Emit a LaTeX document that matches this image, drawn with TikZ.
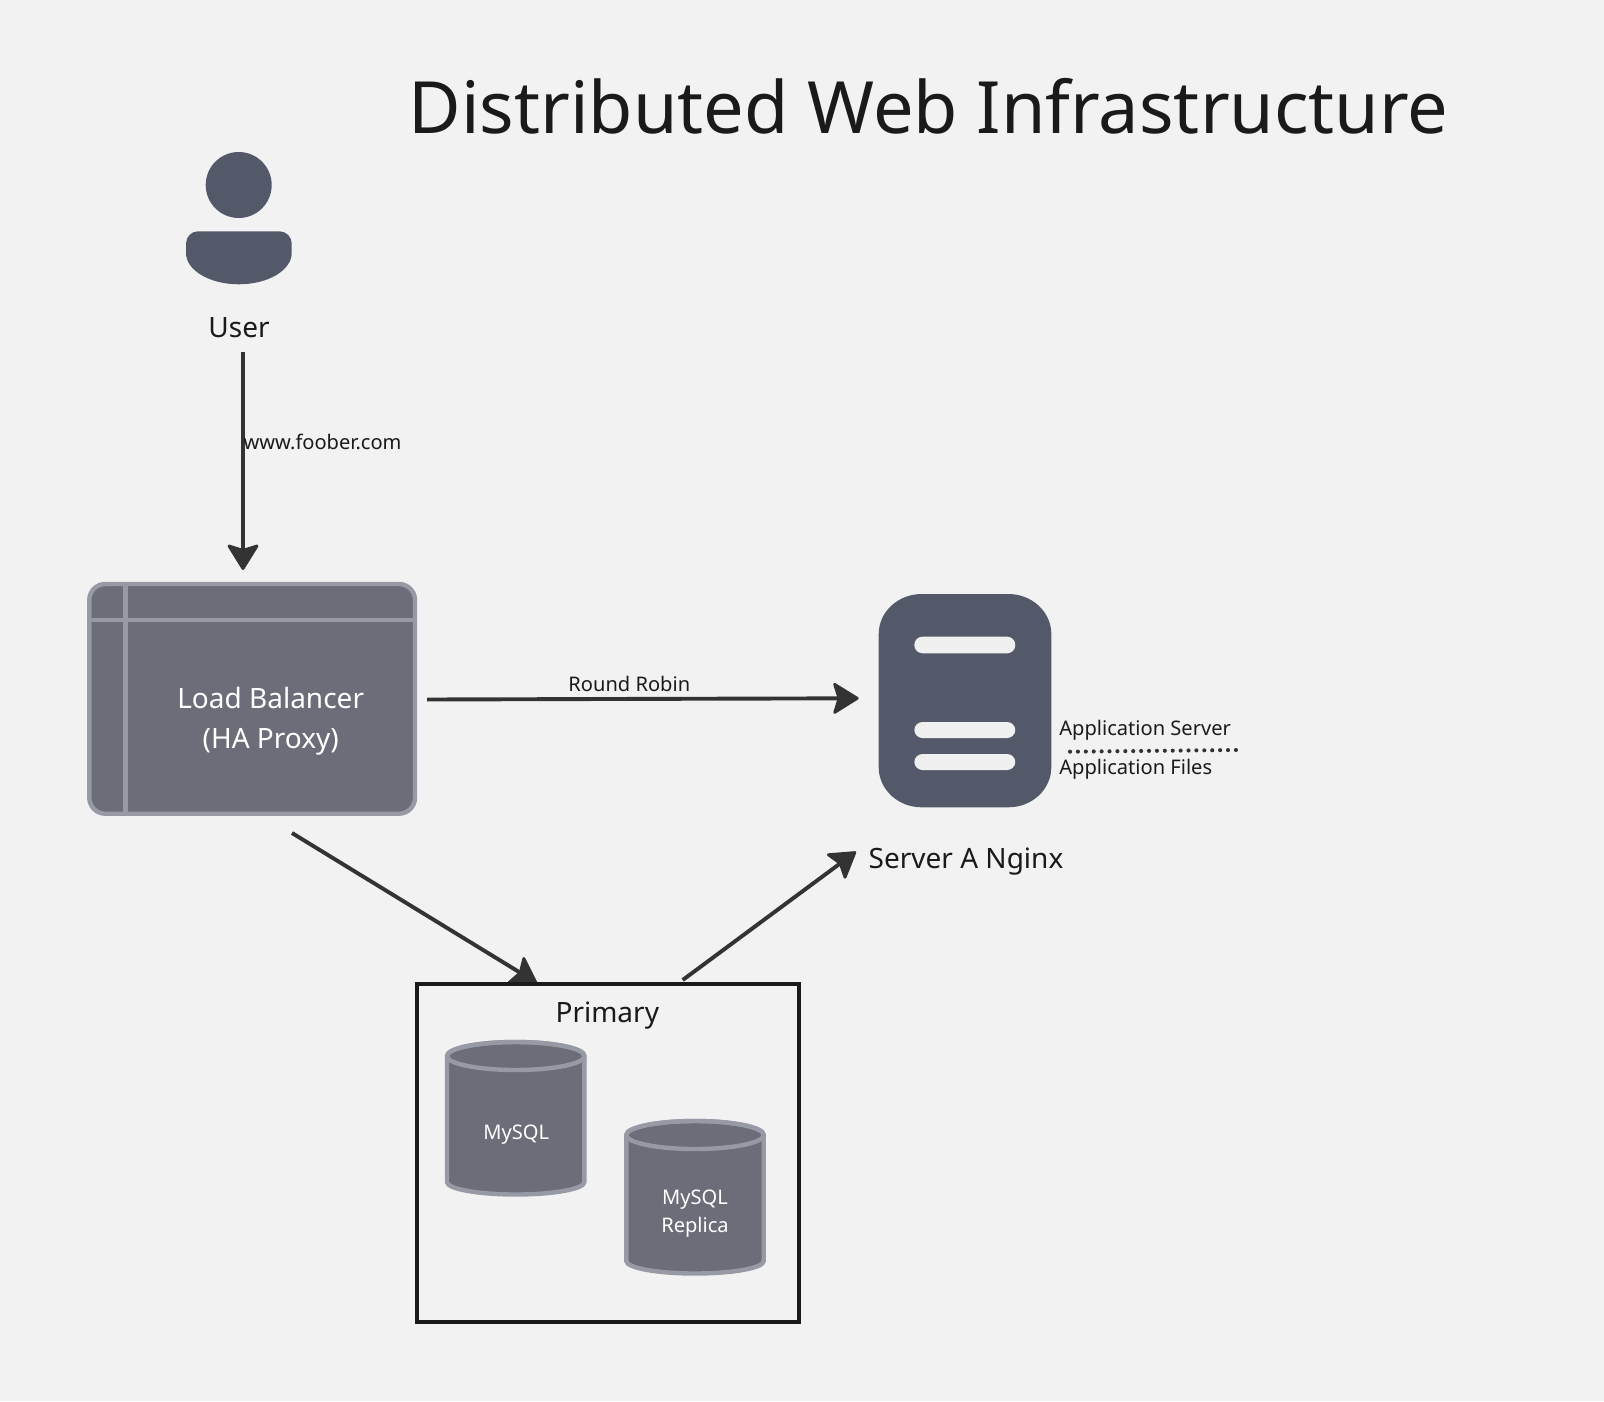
\documentclass[tikz,border=0pt]{standalone}
\usepackage{fontspec}
\setmainfont{Noto Sans}
\usetikzlibrary{arrows.meta}
\definecolor{bg}{HTML}{F2F2F2}
\definecolor{slate}{HTML}{545969}
\definecolor{boxfill}{HTML}{6B6D78}
\definecolor{boxline}{HTML}{9799A5}
\definecolor{ink}{HTML}{1A1A1A}
\definecolor{wire}{HTML}{333333}
\definecolor{barfill}{HTML}{F0F0F0}
\tikzset{
  x=0.5pt,y=0.5pt,
  lbl/.style={inner sep=0pt,outer sep=0pt,anchor=base,text=ink},
  titletxt/.style={lbl,font=\fontsize{36.05}{42}\selectfont},
  bigtxt/.style={lbl,font=\fontsize{14}{17}\selectfont},
  smalltxt/.style={lbl,font=\fontsize{10.05}{13}\selectfont},
  whitetxt/.style={lbl,text=white,align=center,font=\fontsize{14}{20}\selectfont},
  dbtxt/.style={lbl,text=white,align=center,font=\fontsize{10.05}{14}\selectfont},
  wirearrow/.style={draw=wire,line width=1.95pt,-{Stealth[length=13.8pt,width=17pt,inset=2.6pt,round,line width=1.4pt]}},
  glyph/.style={fill=slate,draw=none},
  panel/.style={fill=boxfill,draw=boxline,line width=2.2pt},
  bar/.style={fill=barfill,draw=none,rounded corners=4.1pt},
}
\newcommand{\dbcyl}[2]{% centre x, top of stroke centre line
  \path[panel] (#1-68.7,-#2-14) arc[start angle=180,end angle=0,x radius=68.7,y radius=14]
    -- (#1+68.7,-#2-140) arc[start angle=0,end angle=-180,x radius=68.7,y radius=12.5] -- cycle;
  \draw[boxline,line width=2.2pt] (#1,-#2-14) ellipse[x radius=68.7,y radius=14];
}
\begin{document}
\begin{tikzpicture}
\useasboundingbox (0,0) rectangle (1604,-1401);
\fill[bg] (0,0) rectangle (1604,-1401);

% title
\node[titletxt] (title) at (928.5,-133.7) {Distributed Web Infrastructure};

% user glyph
\fill[glyph] (238.7,-185) circle[radius=33];
\path[glyph] (186,-243.5) arc[start angle=180,end angle=90,radius=12.2] -- (279.5,-231.3)
  arc[start angle=90,end angle=0,radius=12.2] -- (291.7,-253)
  arc[start angle=0,end angle=-180,x radius=52.85,y radius=31.3] -- cycle;
\node[bigtxt] (user) at (239,-337) {User};

% load balancer
\path[panel,rounded corners=8pt] (89.3,-584) rectangle (415,-813.7);
\draw[boxline,line width=2.2pt] (88,-620) -- (416,-620) (125.5,-584) -- (125.5,-813.7);
\node[whitetxt] (lb) at (270.7,-748) {Load Balancer\\(HA Proxy)};

% server glyph
\path[glyph] (878.7,-634) arc[start angle=180,end angle=90,x radius=43,y radius=40] -- (1008.3,-594)
  arc[start angle=90,end angle=0,x radius=43,y radius=40] -- (1051.3,-767.3)
  arc[start angle=0,end angle=-90,x radius=43,y radius=40] -- (921.7,-807.3)
  arc[start angle=-90,end angle=-180,x radius=43,y radius=40] -- cycle;
\path[bar] (914.3,-636.7) rectangle (1015.3,-653.3);
\path[bar] (914.3,-722) rectangle (1015.3,-738);
\path[bar] (914.3,-754) rectangle (1015.3,-770);
\node[bigtxt] (srv) at (966,-868) {Server A Nginx};

% side labels and dotted separator
\node[smalltxt,anchor=base west] (appsrv) at (1059.3,-735) {Application Server};
\node[smalltxt,anchor=base west] (appfiles) at (1059.3,-774) {Application Files};
\coordinate (dotsa) at (1070,-751.7);
\coordinate (dotsb) at (1236,-750);
\draw[wire,line width=2.05pt,line cap=round,dash pattern=on 0.01pt off 3.94pt] (dotsa) -- (dotsb);

% connectors
\coordinate (a1s) at (243,-352);
\coordinate (a1e) at (243,-570);
\coordinate (a2s) at (427,-699.5);
\coordinate (a2e) at (858.7,-698.3);
\coordinate (a3s) at (292,-833);
\coordinate (a3e) at (537,-983);
\coordinate (a4s) at (682.7,-980);
\coordinate (a4e) at (856,-851.7);
\draw[wirearrow] (a1s) -- (a1e);
\draw[wirearrow] (a2s) -- (a2e);
\draw[wirearrow] (a3s) -- (a3e);
\draw[wirearrow] (a4s) -- (a4e);
\node[smalltxt,anchor=base west] (foober) at (243.5,-449) {www.foober.com};
\node[smalltxt] (rr) at (629.3,-691) {Round Robin};

% primary box
\draw[ink,line width=2pt] (417.3,-983.7) rectangle (799.3,-1321.7);
\node[bigtxt] (primary) at (607.3,-1022.7) {Primary};
\dbcyl{515.7}{1042}
\dbcyl{695}{1121}
\node[dbtxt] (mysql) at (516.3,-1139) {MySQL};
\node[dbtxt] (replica) at (695,-1232.3) {MySQL\\Replica};
\end{tikzpicture}
\end{document}
